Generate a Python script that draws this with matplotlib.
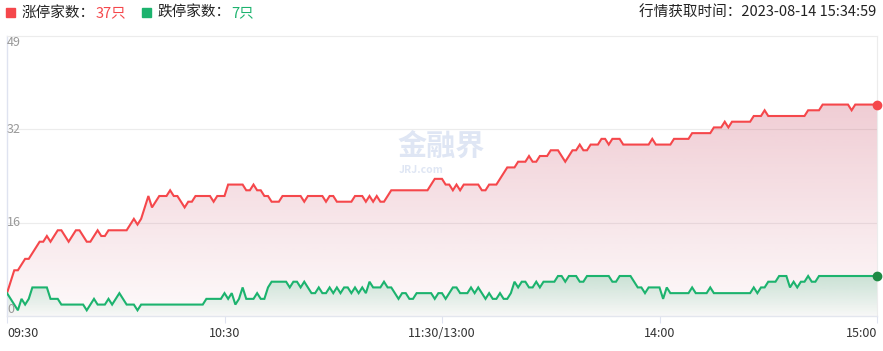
import numpy as np
import matplotlib
matplotlib.use("Agg")
import matplotlib.pyplot as plt
from matplotlib.colors import to_rgb

plt.rcParams['font.family'] = ['Noto Sans CJK SC', 'DejaVu Sans']

# 涨停 / 跌停 家数, one value per minute 09:30-11:30 + 13:01-15:00
up_counts = [
    4, 6, 8, 8, 9, 10, 10, 11, 12, 13,
    13, 14, 13, 14, 15, 15, 14, 13, 14, 15,
    15, 14, 13, 13, 14, 15, 14, 14, 15, 15,
    15, 15, 15, 15, 16, 17, 16, 17, 19, 21,
    19, 20, 21, 21, 21, 22, 21, 21, 20, 19,
    20, 20, 21, 21, 21, 21, 21, 20, 21, 21,
    21, 23, 23, 23, 23, 23, 22, 22, 23, 22,
    22, 21, 21, 20, 20, 20, 21, 21, 21, 21,
    21, 21, 20, 21, 21, 21, 21, 21, 20, 21,
    21, 20, 20, 20, 20, 20, 21, 21, 21, 20,
    21, 20, 21, 20, 20, 21, 22, 22, 22, 22,
    22, 22, 22, 22, 22, 22, 22, 23, 24, 24,
    24, 23, 23, 22, 23, 22, 23, 23, 23, 23,
    23, 22, 22, 23, 23, 23, 24, 25, 26, 26,
    26, 27, 27, 27, 28, 27, 27, 28, 28, 28,
    29, 29, 29, 28, 27, 28, 29, 29, 30, 29,
    29, 30, 30, 30, 31, 31, 30, 31, 31, 31,
    30, 30, 30, 30, 30, 30, 30, 30, 31, 30,
    30, 30, 30, 30, 31, 31, 31, 31, 31, 32,
    32, 32, 32, 32, 32, 33, 33, 33, 34, 33,
    34, 34, 34, 34, 34, 34, 35, 35, 35, 36,
    35, 35, 35, 35, 35, 35, 35, 35, 35, 35,
    35, 36, 36, 36, 36, 37, 37, 37, 37, 37,
    37, 37, 37, 36, 37, 37, 37, 37, 37, 37, 37,
]
down_counts = [
    4, 3, 2, 1, 3, 2, 3, 5, 5, 5,
    5, 5, 3, 3, 3, 2, 2, 2, 2, 2,
    2, 2, 1, 2, 3, 2, 2, 2, 3, 2,
    3, 4, 3, 2, 2, 2, 1, 2, 2, 2,
    2, 2, 2, 2, 2, 2, 2, 2, 2, 2,
    2, 2, 2, 2, 2, 3, 3, 3, 3, 3,
    4, 3, 4, 2, 3, 5, 3, 3, 3, 4,
    3, 3, 5, 6, 6, 6, 6, 6, 5, 6,
    6, 5, 6, 5, 4, 4, 5, 4, 4, 5,
    4, 5, 4, 5, 5, 4, 5, 4, 5, 4,
    6, 5, 5, 5, 6, 5, 5, 4, 3, 4,
    4, 3, 3, 4, 4, 4, 4, 4, 3, 4,
    4, 3, 4, 5, 5, 4, 4, 4, 5, 4,
    5, 4, 3, 4, 3, 3, 4, 3, 3, 4,
    6, 5, 6, 6, 5, 5, 6, 5, 6, 6,
    6, 6, 7, 7, 6, 7, 7, 7, 6, 6,
    7, 7, 7, 7, 7, 7, 7, 6, 6, 7,
    7, 7, 7, 6, 5, 5, 4, 5, 5, 5,
    5, 3, 5, 4, 4, 4, 4, 4, 4, 5,
    4, 4, 4, 4, 5, 4, 4, 4, 4, 4,
    4, 4, 4, 4, 4, 4, 5, 4, 5, 5,
    6, 6, 6, 7, 7, 7, 5, 6, 5, 6,
    6, 7, 6, 6, 7, 7, 7, 7, 7, 7,
    7, 7, 7, 7, 7, 7, 7, 7, 7, 7, 7,
]
x_ticks = [0, 60, 120, 180, 240]
x_labels = ['09:30', '10:30', '11:30/13:00', '14:00', '15:00']
y_max = 49
y_labels = ['0', '16', '32', '49']
fetch_time = '2023-08-14 15:34:59'

red = '#f5474b'
green = '#1cb36e'

x = np.arange(len(up_counts))
up = np.array(up_counts)
down = np.array(down_counts)

fig = plt.figure(figsize=(8.83, 3.51), dpi=100)
ax = fig.add_axes([7 / 883, 1 - 316 / 351, 870 / 883, 280 / 351])


def gradient_fill(xs, ys, color, a_top, a_bot, z):
    poly = ax.fill_between(xs, ys, 0, color='none', lw=0)
    rgb = to_rgb(color)
    img = np.zeros((200, 1, 4))
    img[:, :, :3] = rgb
    img[:, 0, 3] = np.linspace(a_bot, a_top, 200)
    im = ax.imshow(img, aspect='auto', origin='lower',
                   extent=[xs[0], xs[-1], 0, ys.max()], zorder=z)
    im.set_clip_path(poly.get_paths()[0], transform=ax.transData)


gradient_fill(x, up, '#cd5870', 0.30, 0.03, 1)
gradient_fill(x, down, '#3fb57f', 0.26, 0.03, 2)

ax.plot(x, up, color=red, lw=1.5, zorder=4, solid_joinstyle='miter')
ax.plot(x, down, color=green, lw=1.5, zorder=4, solid_joinstyle='miter')
ax.plot(x[-1], up[-1], 'o', color=red, ms=6, zorder=5, clip_on=False)
ax.plot(x[-1], down[-1], 'o', color='#1f8a45', ms=6, zorder=5, clip_on=False)

ax.set_xlim(0, len(up_counts) - 1)
ax.set_ylim(0, y_max)

# grid lines
y_pos = [0, y_max / 3, 2 * y_max / 3, y_max]
for yp in y_pos[1:3]:
    ax.axhline(yp, color='#ececec', lw=0.8, zorder=0.5)
for side in ['top', 'right']:
    ax.spines[side].set_color('#ececec')
    ax.spines[side].set_linewidth(0.8)
ax.spines['bottom'].set_color('#e3e6ee')
ax.spines['left'].set_color('#dfe3f0')
ax.spines['bottom'].set_linewidth(1)
ax.spines['left'].set_linewidth(1)

# y labels drawn inside the plot
aligns = ['bottom', 'center', 'center', 'top']
for yp, lab, va in zip(y_pos, y_labels, aligns):
    ax.text(0.0, yp, lab, transform=ax.get_yaxis_transform(), ha='left',
            va=va, color='#999999', fontsize=9, zorder=6)
ax.set_yticks([])

ax.set_xticks(x_ticks)
ax.set_xticklabels(x_labels, fontsize=9, color='#333333')
ax.tick_params(axis='x', length=5, color='#dfe3f0', pad=3)
tl = ax.get_xticklabels()
tl[0].set_horizontalalignment('left')
tl[-1].set_horizontalalignment('right')

# watermark
fig.text(441 / 883, 1 - 147 / 351, '金融界', ha='center', va='center',
         fontsize=21, fontweight='bold', color='#dfe6f4', zorder=0)
fig.text(421 / 883, 1 - 170 / 351, 'JRJ.com', ha='center', va='center',
         fontsize=7.5, fontweight='bold', color='#dfe6f4', zorder=0)

# legend line at the top
ty = 1 - 13 / 351
fig.patches.append(plt.Rectangle((6 / 883, 1 - 17 / 351), 9 / 883, 9 / 351,
                                 transform=fig.transFigure, color=red))
t1 = fig.text(22 / 883, ty, '涨停家数：', ha='left', va='center',
              fontsize=10.5, color='#222222')
ax.annotate(f'{up_counts[-1]}只', xy=(1, 0.5), xycoords=t1, ha='left',
            va='center', fontsize=10.5, color=red, annotation_clip=False)
fig.patches.append(plt.Rectangle((142 / 883, 1 - 17 / 351), 9 / 883, 9 / 351,
                                 transform=fig.transFigure, color=green))
t2 = fig.text(158 / 883, ty, '跌停家数：', ha='left', va='center',
              fontsize=10.5, color='#222222')
ax.annotate(f'{down_counts[-1]}只', xy=(1, 0.5), xycoords=t2, ha='left',
            va='center', fontsize=10.5, color=green, annotation_clip=False)
fig.text(876 / 883, ty, '行情获取时间：' + fetch_time, ha='right',
         va='center', fontsize=10.5, color='#222222')

fig.savefig('out.png', dpi=100)
